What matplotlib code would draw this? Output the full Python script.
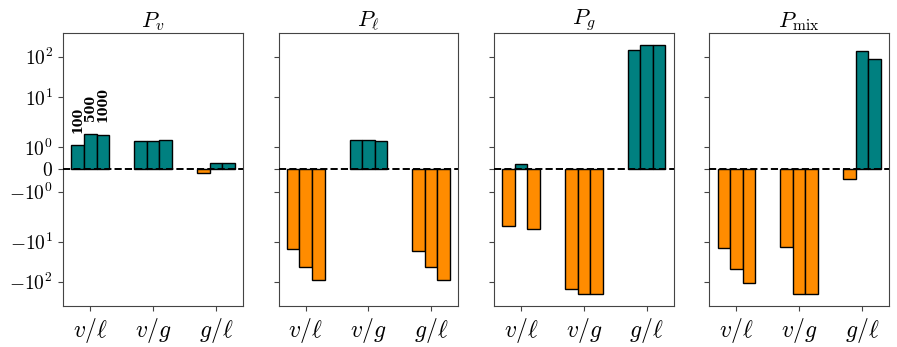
import numpy as np
import matplotlib
matplotlib.use("Agg")
import matplotlib.pyplot as plt

plt.rcParams['font.family'] = ['DejaVu Serif']
plt.rcParams['mathtext.fontset'] = 'cm'

titles = [r'$P_v$', r'$P_\ell$', r'$P_g$', r'$P_{\mathrm{mix}}$']
categories = [r'$v/\ell$', r'$v/g$', r'$g/\ell$']
sizes = ['100', '500', '1000']

# values[panel][category] -> [100, 500, 1000]
P_v = [[1.09, 1.59, 1.56], [1.26, 1.27, 1.30], [-0.17, 0.30, 0.27]]
P_l = [[-15.0, -42.0, -91.0], [1.33, 1.32, 1.29], [-16.8, -42.0, -91.0]]
P_g = [[-4.05, 0.24, -4.8], [-155.0, -198.0, -198.0], [149.0, 198.0, 198.0]]
P_mix = [[-14.4, -49.0, -110.0], [-13.8, -198.0, -198.0], [-0.42, 143.0, 87.0]]
panels = [P_v, P_l, P_g, P_mix]

pos_color = '#008080'
neg_color = '#FF8C00'

fig, axes = plt.subplots(1, 4, figsize=(8.97, 3.47), dpi=100, sharey=True)
fig.subplots_adjust(left=0.0706, right=0.991, top=0.9058, bottom=0.1182, wspace=0.2)

width = 0.2
offsets = [-0.2, 0.0, 0.2]
x = np.arange(len(categories))

for pi, ax in enumerate(axes):
    data = np.array(panels[pi])
    for j in range(3):
        vals = data[:, j]
        cols = [pos_color if v >= 0 else neg_color for v in vals]
        bars = ax.bar(x + offsets[j], vals, width=width, color=cols,
                      edgecolor='black', linewidth=1.0, zorder=2)
        if pi == 0:
            b = bars[0]
            ax.annotate(sizes[j], (b.get_x() + b.get_width() / 2, b.get_height()),
                        xytext=(0, 9), textcoords='offset points',
                        rotation=90, ha='center', va='bottom',
                        fontsize=9, fontweight='bold')
    ax.axhline(0, color='black', linestyle='--', linewidth=1.4, zorder=3)
    ax.set_yscale('symlog', linthresh=2, linscale=1)
    ax.set_title(titles[pi], fontsize=16, pad=4)
    ax.set_xticks(x)
    ax.set_xticklabels(categories, fontsize=17)
    for s in ax.spines.values():
        s.set_color('#444444')
    ax.tick_params(axis='y', labelsize=14, color='#444444', pad=4)
    ax.tick_params(axis='x', color='#444444', pad=4)

ax0 = axes[0]
ax0.set_ylim(-402, 402)
ax0.set_yticks([-100, -10, -1, 0, 1, 10, 100])
ax0.set_yticklabels([r'$-10^2$', r'$-10^1$', r'$-10^0$', r'$0$', r'$10^0$', r'$10^1$', r'$10^2$'])
ax0.yaxis.set_minor_locator(matplotlib.ticker.NullLocator())
for ax in axes[1:]:
    ax.tick_params(axis='y', labelleft=False)

fig.savefig('out.png', dpi=100)
